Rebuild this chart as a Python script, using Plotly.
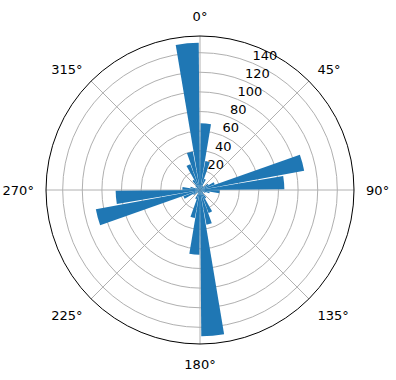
import plotly.graph_objects as go

# bin centres (degrees, compass, clockwise from north)
directions = [5, 15, 25, 35, 45, 55, 65, 75, 85, 95, 105, 115,
              125, 135, 145, 155, 165, 175, 185, 195, 205, 215, 225, 235,
              245, 255, 265, 275, 285, 295, 305, 315, 325, 335, 345, 355]
counts = [68, 30, 12, 5, 4, 10, 16, 108, 86, 20, 10, 6,
          3, 4, 10, 25, 36, 149, 66, 29, 10, 4, 3, 8,
          18, 108, 86, 18, 10, 5, 4, 6, 12, 28, 40, 150]
bin_width = 9
angle_ticks = [0, 45, 90, 135, 180, 225, 270, 315]
angle_labels = ["0°", "45°", "90°", "135°", "180°", "225°", "270°", "315°"]
r_ticks = [20, 40, 60, 80, 100, 120, 140]
r_tick_labels = ["20", "40", "60", "80", "100", "120", "140"]
r_label_angle = 22.5
r_max = 157

fig = go.Figure()
fig.add_trace(go.Barpolar(
    theta=directions,
    r=counts,
    width=[bin_width] * len(directions),
    marker=dict(color="#1f77b4", line=dict(width=0)),
    opacity=1,
))

font = dict(family="DejaVu Sans", size=13, color="black")

# radial tick labels, placed like matplotlib's (bottom-left anchored)
fig.add_trace(go.Scatterpolar(
    r=r_ticks,
    theta=[r_label_angle] * len(r_ticks),
    mode="text",
    text=r_tick_labels,
    textposition="top right",
    textfont=font,
    hoverinfo="skip",
    cliponaxis=False,
))

fig.update_layout(
    width=396, height=380,
    margin=dict(l=0, r=0, t=0, b=0),
    paper_bgcolor="white",
    showlegend=False,
    font=font,
    polar=dict(
        domain=dict(x=[46/396, 354/396], y=[35/380, 345/380]),
        bgcolor="white",
        bargap=0,
        angularaxis=dict(
            direction="clockwise", rotation=90,
            tickmode="array", tickvals=angle_ticks, ticktext=angle_labels,
            ticks="outside", ticklen=9, tickcolor="rgba(0,0,0,0)",
            showline=True, linecolor="black", linewidth=1,
            gridcolor="#b0b0b0", gridwidth=0.8, tickfont=font,
        ),
        radialaxis=dict(
            range=[0, r_max], tickmode="array", tickvals=r_ticks,
            ticks="", showline=False, gridcolor="#b0b0b0", gridwidth=0.8,
            showticklabels=False,
        ),
    ),
)
fig.write_html("out.html")
